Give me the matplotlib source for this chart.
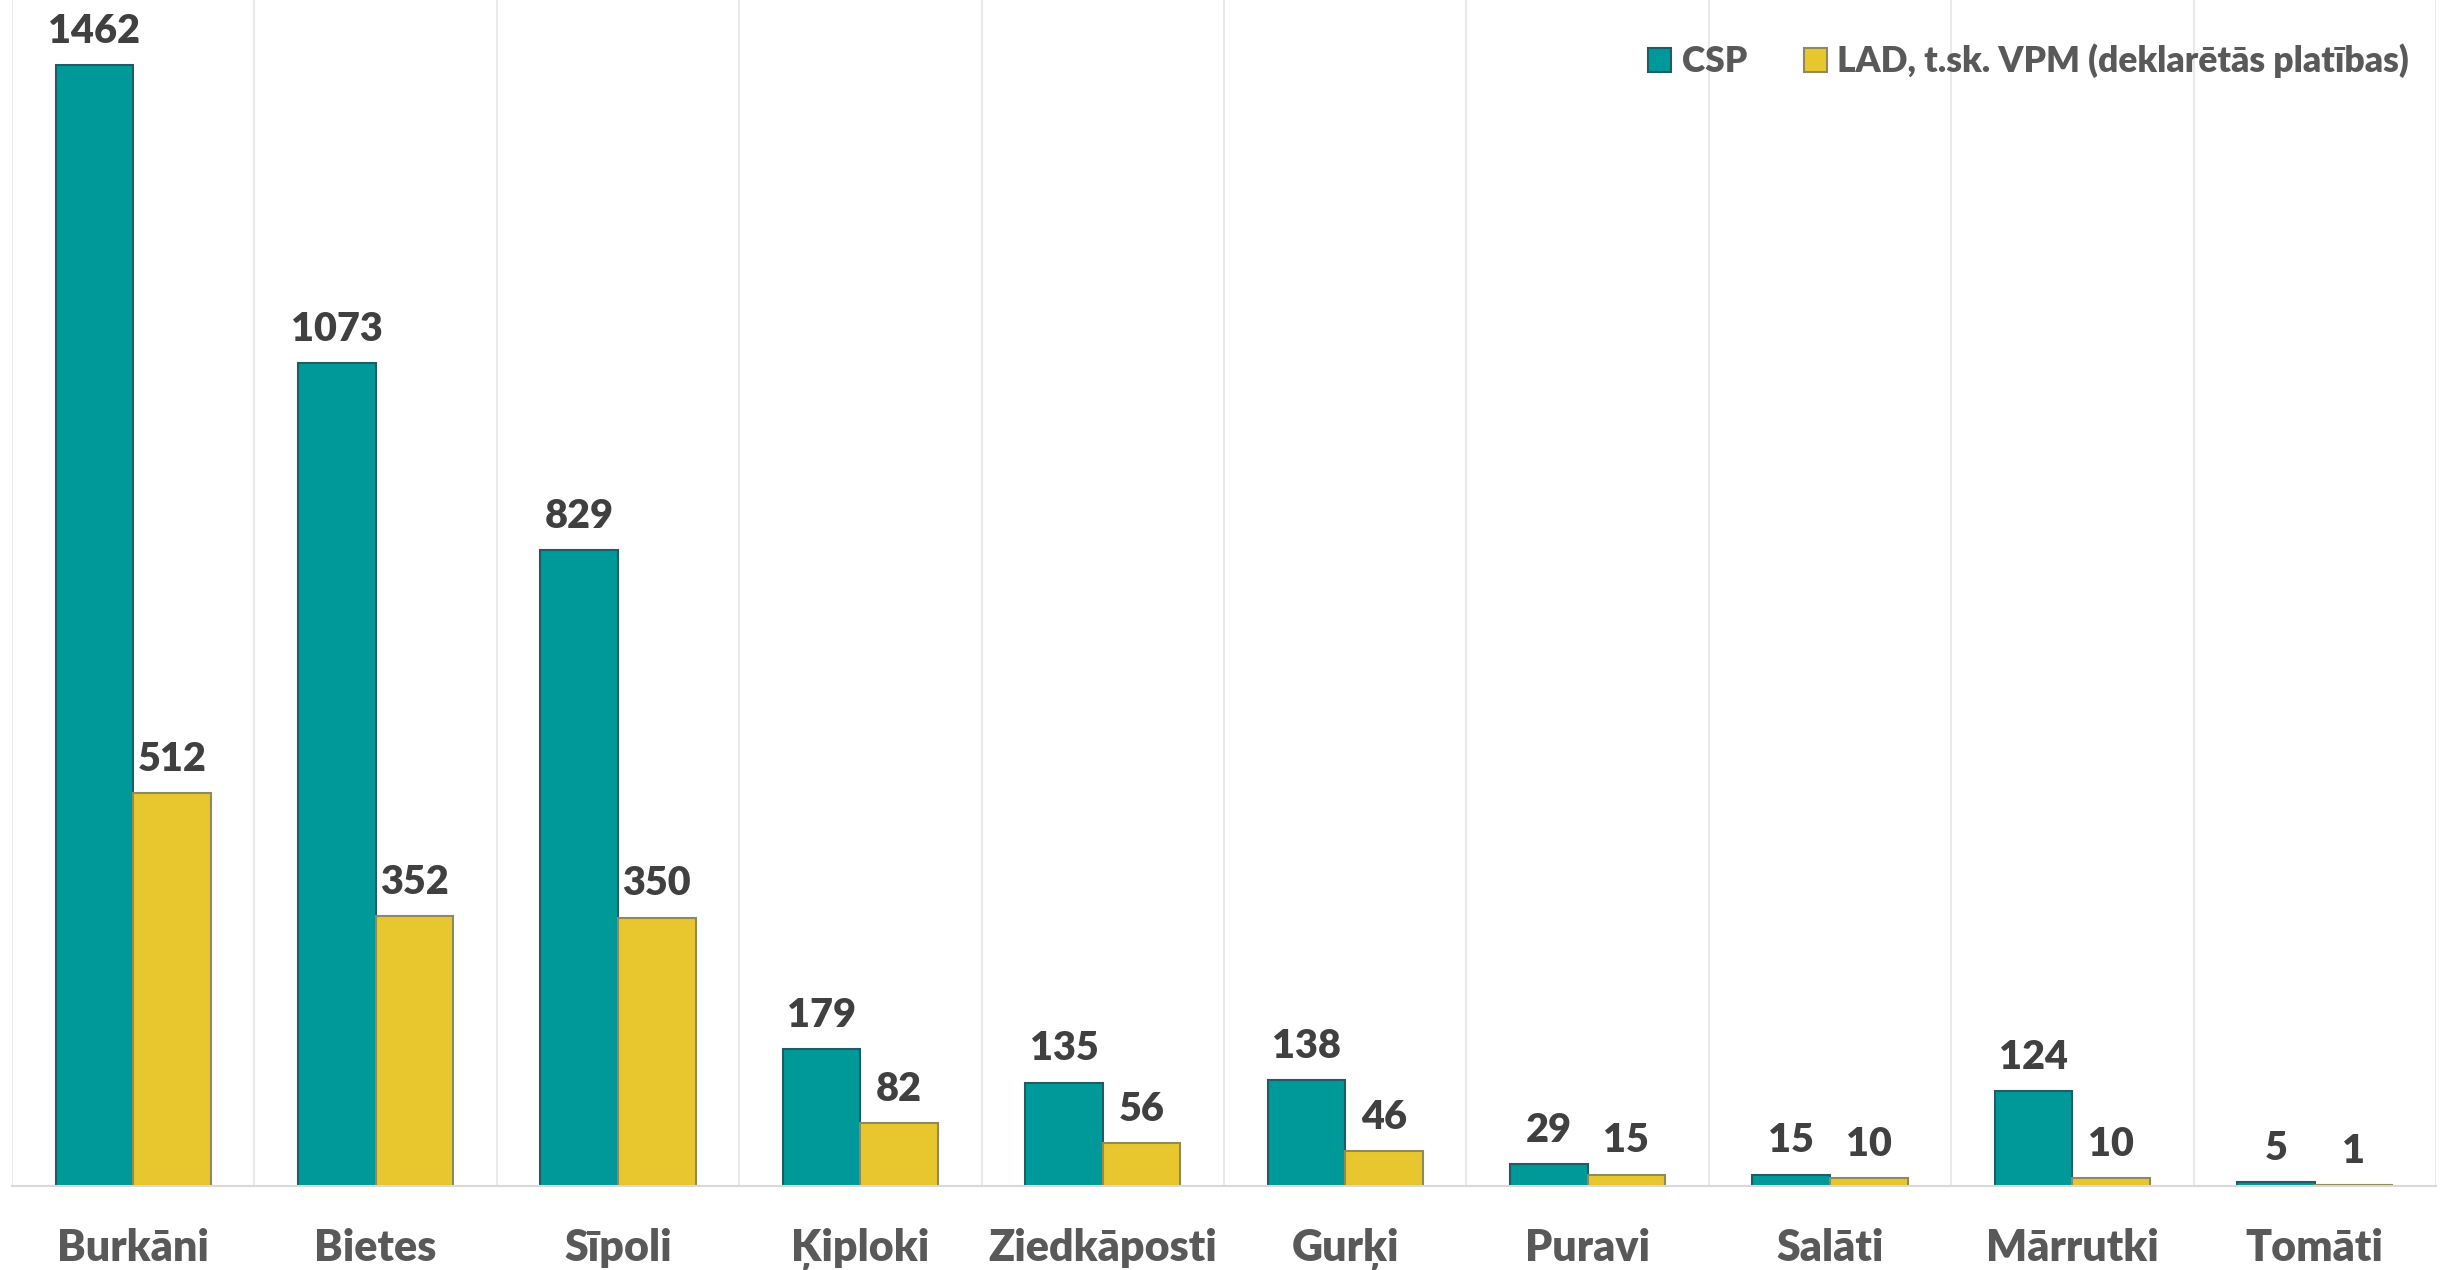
import numpy as np
import matplotlib
matplotlib.use("Agg")
import matplotlib.pyplot as plt
from matplotlib.patches import Patch

plt.rcParams['font.family'] = ['Lato', 'DejaVu Sans']
plt.rcParams['font.weight'] = 'bold'

# data
categories = ["Burkāni", "Bietes", "Sīpoli", "Ķiploki", "Ziedkāposti",
              "Gurķi", "Puravi", "Salāti", "Mārrutki", "Tomāti"]
csp = [1462, 1073, 829, 179, 135, 138, 29, 15, 124, 5]
lad = [512, 352, 350, 82, 56, 46, 15, 10, 10, 1]
series_names = ["CSP", "LAD, t.sk. VPM (deklarētās platības)"]

teal = "#009999"
yellow = "#E8C72E"

fig = plt.figure(figsize=(24.43, 12.70), dpi=100)
ax = fig.add_axes([12 / 2443, 84 / 1270, 2424 / 2443, 1186 / 1270])

x = np.arange(len(categories))
w = 0.32
b1 = ax.bar(x - w / 2, csp, width=w, color=teal, edgecolor="#1f5c66", linewidth=1.5)
b2 = ax.bar(x + w / 2, lad, width=w, color=yellow, edgecolor="#8f8a5a", linewidth=1.5)

for bars, vals in [(b1, csp), (b2, lad)]:
    for r, v in zip(bars, vals):
        ax.annotate(str(v), (r.get_x() + r.get_width() / 2, r.get_height()),
                    xytext=(0, 16), textcoords="offset points",
                    ha="center", va="baseline", fontsize=28.5,
                    fontweight="heavy", color="#404040")

ax.set_xlim(-0.5, len(categories) - 0.5)
ax.set_ylim(0, 1547)

# vertical separators between categories
for k in np.arange(-0.5, len(categories), 1.0):
    ax.axvline(k, color="#e3e6e6", linewidth=1.2, zorder=0)

ax.set_xticks(x)
ax.set_xticklabels(categories, fontsize=31, fontweight="heavy", color="#595959")
ax.tick_params(axis="x", length=0, pad=30)
ax.set_yticks([])
for s in ["top", "left", "right"]:
    ax.spines[s].set_visible(False)
ax.spines["bottom"].set_color("#d9d9d9")
ax.spines["bottom"].set_linewidth(1.5)

handles = [Patch(facecolor=teal, edgecolor="#1f5c66", linewidth=1.5),
           Patch(facecolor=yellow, edgecolor="#8f8a5a", linewidth=1.5)]
leg = ax.legend(handles, series_names, loc="upper right", ncol=2, frameon=False,
                bbox_to_anchor=(1.002, 0.99), fontsize=25.5,
                handlelength=0.65, handleheight=0.65, handletextpad=0.3,
                columnspacing=1.6)
for t in leg.get_texts():
    t.set_color("#595959")
    t.set_fontweight("heavy")

plt.savefig("out.png", dpi=100)
